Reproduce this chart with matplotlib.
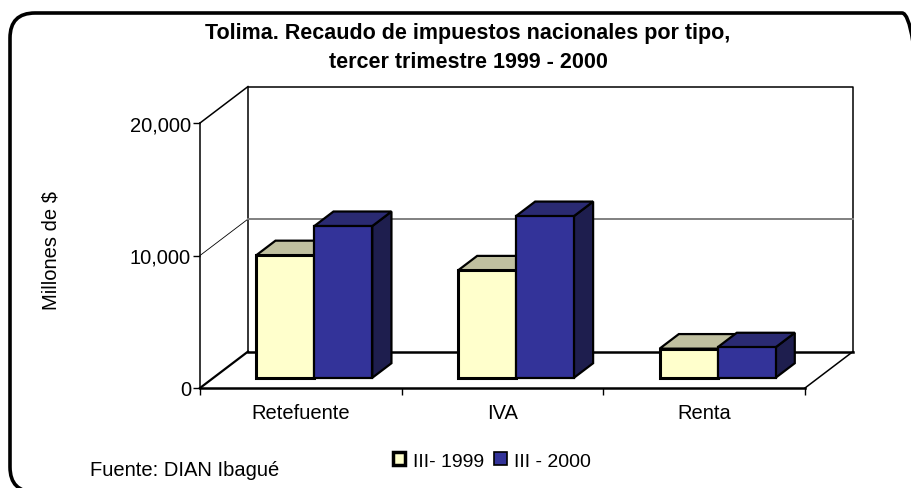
import numpy as np
import matplotlib
matplotlib.use("Agg")
import matplotlib.pyplot as plt
from matplotlib.patches import Polygon, Patch, FancyBboxPatch
from matplotlib.ticker import FuncFormatter

categories = ["Retefuente", "IVA", "Renta"]
series_names = ["III- 1999", "III - 2000"]
values_1999 = [9250, 8100, 2200]
values_2000 = [11450, 12200, 2300]

front_colors = ["#FFFFCC", "#333399"]
top_colors = ["#C0C0A0", "#2A2A72"]
side_colors = ["#C0C0A0", "#1E1E4E"]

plt.rcParams["font.family"] = ["Liberation Sans", "DejaVu Sans"]

fig = plt.figure(figsize=(9.12, 4.89), dpi=100)
ax = fig.add_axes([200 / 912, 100 / 489, 605 / 912, 265 / 489])
ax.set_xlim(-0.5, 2.5)
ax.set_ylim(0, 20000)
ax.patch.set_visible(False)

# oblique depth offset (data units) and bar placement in depth
Dx, Dy = 0.238, 2750
f0, bd = 0.28, 0.40
W = 0.2875

# walls and floor
x0w, x1w = -0.5, 2.5
kw = dict(color="black", clip_on=False, solid_capstyle="projecting")
ax.plot([x0w, x0w + Dx], [0, Dy], lw=1.6, **kw)
ax.plot([x0w, x0w + Dx], [20000, 20000 + Dy], lw=1.1, **kw)
ax.plot([x0w, x0w + Dx], [10000, 10000 + Dy], lw=0.6, **kw)
ax.plot([x0w + Dx, x0w + Dx, x1w + Dx, x1w + Dx],
        [Dy, 20000 + Dy, 20000 + Dy, Dy], lw=1.1, **kw)
ax.plot([x0w + Dx, x1w + Dx], [Dy, Dy], lw=1.8, **kw)
ax.plot([x1w, x1w + Dx], [0, Dy], lw=1.1, **kw)
ax.plot([x0w + Dx, x1w + Dx], [10000 + Dy, 10000 + Dy], color="#808080",
        lw=1.4, clip_on=False)

# 3-D looking bars
for i in range(len(categories)):
    for s, vals in enumerate([values_1999, values_2000]):
        v = vals[i]
        bx = i - W + s * W + f0 * Dx
        by = f0 * Dy
        ddx, ddy = bd * Dx, bd * Dy
        side = Polygon([(bx + W, by), (bx + W, by + v), (bx + W + ddx, by + v + ddy),
                        (bx + W + ddx, by + ddy)], closed=True,
                       facecolor=side_colors[s], edgecolor="black", lw=1.6,
                       clip_on=False, zorder=3 + 2 * s, joinstyle="miter")
        top = Polygon([(bx, by + v), (bx + W, by + v), (bx + W + ddx, by + v + ddy),
                       (bx + ddx, by + v + ddy)], closed=True,
                      facecolor=top_colors[s], edgecolor="black", lw=1.6,
                      clip_on=False, zorder=3 + 2 * s, joinstyle="miter")
        ax.add_patch(side)
        ax.add_patch(top)
        ax.bar(bx, v, width=W, bottom=by, align="edge", color=front_colors[s],
               edgecolor="black", lw=2.2 if s == 0 else 1.6,
               clip_on=False, zorder=4 + 2 * s)

# axes styling
for sp in ["top", "right"]:
    ax.spines[sp].set_visible(False)
ax.spines["left"].set_linewidth(1.1)
ax.spines["bottom"].set_linewidth(1.8)
ax.set_yticks([0, 10000, 20000])
ax.yaxis.set_major_formatter(FuncFormatter(lambda y, _: f"{y:,.0f}"))
ax.tick_params(axis="y", length=5, width=1, pad=1.5, labelsize=14.5)
ax.set_xticks(range(len(categories)))
ax.set_xticklabels(categories)
ax.set_xticks([-0.5, 0.5, 1.5, 2.5], minor=True)
ax.tick_params(axis="x", which="major", length=0, pad=11, labelsize=14.5)
ax.tick_params(axis="x", which="minor", length=5, width=1)

# texts
fig.text(468 / 912, 1 - 33 / 489, "Tolima. Recaudo de impuestos nacionales por tipo,",
         ha="center", va="center", fontsize=15.5, fontweight="bold")
fig.text(468 / 912, 1 - 62 / 489, "tercer trimestre 1999 - 2000",
         ha="center", va="center", fontsize=15.5, fontweight="bold")
fig.text(51 / 912, 1 - 250 / 489, "Millones de $", rotation=90,
         ha="center", va="center", fontsize=14.5)
fig.text(90 / 912, 1 - 471 / 489, "Fuente: DIAN Ibagué",
         ha="left", va="center", fontsize=14.5)

handles = [Patch(facecolor=front_colors[0], edgecolor="black", lw=2.5),
           Patch(facecolor=front_colors[1], edgecolor="black", lw=1.2)]
fig.legend(handles, series_names, loc="center", bbox_to_anchor=(492 / 912, 1 - 462 / 489),
           ncol=2, frameon=False, fontsize=14, handlelength=0.65, handleheight=0.65,
           handletextpad=0.4, columnspacing=0.5)

# rounded outer border (right and bottom sides run past the image edge)
border = FancyBboxPatch((0.10, -0.04), 9.17, 4.79,
                        boxstyle="round,pad=0,rounding_size=0.25",
                        transform=fig.dpi_scale_trans, facecolor="none",
                        edgecolor="black", lw=2.6)
fig.patches.append(border)

fig.savefig("out.png", dpi=100)
